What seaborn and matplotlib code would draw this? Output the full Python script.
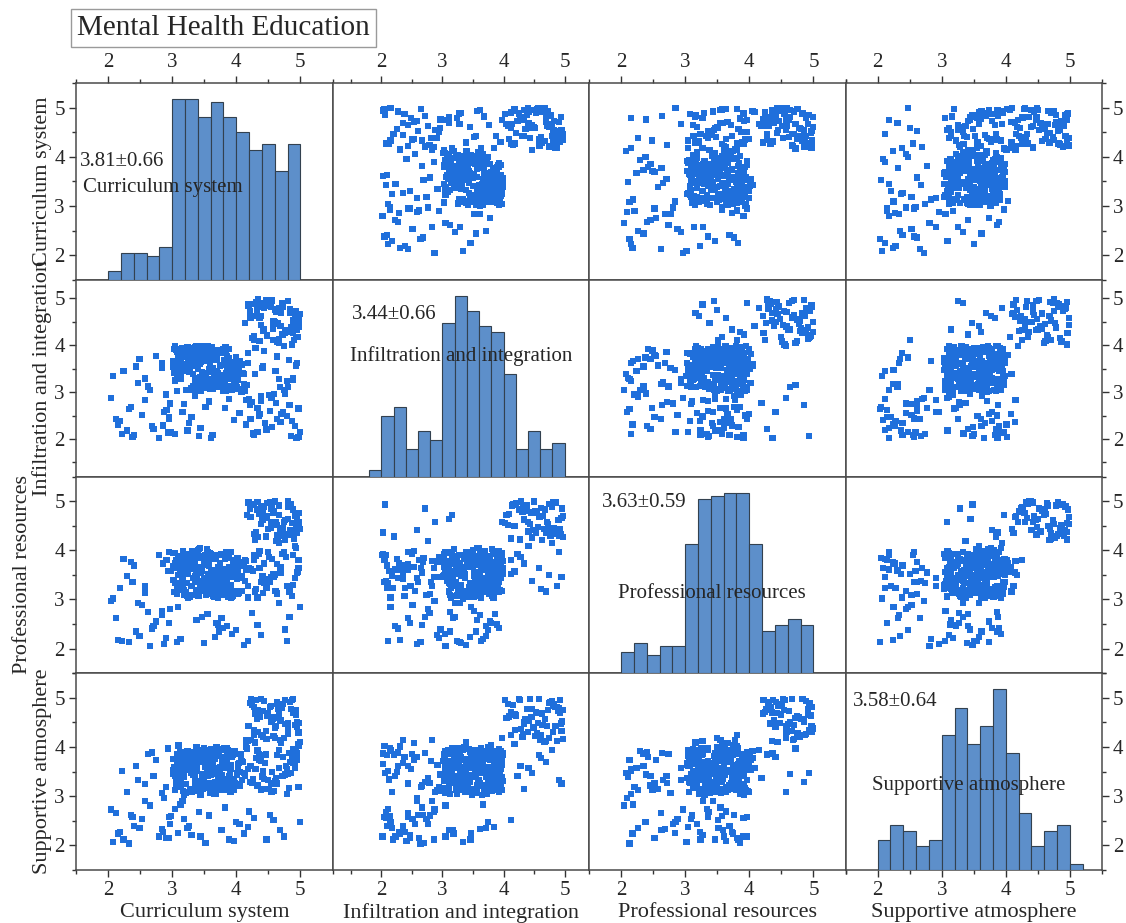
import numpy as np
import pandas as pd
import matplotlib
matplotlib.use("Agg")
import matplotlib.pyplot as plt
import seaborn as sns
from matplotlib.ticker import FixedLocator, MultipleLocator

# ---------------------------------------------------------------- data
names = ["Curriculum system", "Infiltration and integration",
         "Professional resources", "Supportive atmosphere"]
summary = ["3.81\u00b10.66", "3.44\u00b10.66", "3.63\u00b10.59", "3.58\u00b10.64"]
tick_values = [2, 3, 4, 5]

# histogram bins (start of first bin, bin width 0.2) and counts
hist_start = [2.0, 1.8, 2.0, 2.0]
hist_curriculum = [3, 9, 9, 8, 11, 60, 60, 54, 59, 54, 49, 43, 45, 36, 45]
hist_infiltration = [2, 20, 23, 9, 15, 12, 51, 60, 55, 50, 48, 34, 9, 15, 9, 11]
hist_professional = [7, 10, 6, 9, 9, 43, 58, 59, 60, 60, 43, 14, 16, 18, 16]
hist_supportive = [10, 15, 13, 8, 10, 45, 54, 42, 48, 60, 39, 19, 8, 13, 15, 2]

# respondent scores, split by response profile
core_c = [3.12, 3.47, 3.85, 3.06, 3.63, 3.91, 3.28, 3.74, 3.55, 4.02,
          3.38, 3.19, 3.96, 3.67, 3.03, 3.81, 3.44, 3.25, 4.07, 3.59,
          3.71, 3.14, 3.88, 3.33, 3.52, 3.98, 3.09, 3.66, 3.42, 3.77,
          3.21, 4.05, 3.49, 3.84, 3.17, 3.61, 3.36, 3.93, 3.02, 3.73,
          3.58, 3.27, 3.89, 3.11, 3.45, 4.09, 3.69, 3.31, 3.82, 3.54,
          3.15, 3.76, 3.39, 3.95, 3.07, 3.62, 3.48, 3.86, 3.23, 4.01,
          3.68, 3.35, 3.79, 3.13, 3.57, 3.92, 3.29, 3.71, 3.04, 3.46,
          3.87, 3.18, 3.64, 3.41, 3.99, 3.26, 3.53, 3.83, 3.10, 3.75,
          3.32, 3.97, 3.60, 3.08, 3.43, 3.78, 3.22, 4.04, 3.50, 3.65,
          3.94, 3.16, 3.72, 3.37, 3.85, 3.05, 3.56, 3.30, 3.90, 3.63,
          3.20, 3.80, 3.47, 4.08, 3.34, 3.70, 3.12, 3.58, 3.88, 3.40,
          3.75, 3.01, 3.66, 3.24, 3.96, 3.51, 3.14, 3.83, 3.44, 3.69,
          3.28, 3.92, 3.55, 3.09, 3.78, 3.36, 4.03, 3.61, 3.19, 3.86,
          3.53, 3.08, 3.77, 3.36, 3.94, 3.21, 3.62, 3.45, 3.87, 3.14,
          3.69, 3.31, 4.06, 3.57, 3.03, 3.82, 3.40, 3.73, 3.17, 3.98,
          3.26, 3.64, 3.49, 3.91, 3.11, 3.79, 3.35, 3.58, 4.03, 3.22,
          3.86, 3.44, 3.05, 3.71, 3.29, 3.96, 3.52, 3.15, 3.67, 3.38,
          3.90, 3.07, 3.61, 3.33, 3.84, 3.47, 3.19, 3.75, 3.56, 4.01,
          3.24, 3.68, 3.42, 3.93, 3.10, 3.80, 3.37, 3.59, 3.02, 3.72,
          3.48, 3.88, 3.16, 3.65, 3.30, 3.97, 3.54, 3.23, 3.81, 3.41,
          3.06, 3.74, 3.60, 3.28, 3.92, 3.46, 3.13, 3.85, 3.39, 3.66]
core_i = [3.74, 3.21, 3.58, 3.93, 3.08, 3.45, 3.82, 3.15, 3.67, 3.36,
          3.99, 3.52, 3.11, 3.79, 3.42, 3.26, 3.88, 3.63, 3.04, 3.57,
          3.33, 3.86, 3.47, 3.12, 3.95, 3.61, 3.38, 3.73, 3.19, 3.84,
          3.55, 3.07, 3.69, 3.41, 3.81, 3.24, 3.97, 3.49, 3.66, 3.13,
          3.89, 3.44, 3.28, 3.76, 3.02, 3.59, 3.35, 3.92, 3.17, 3.71,
          3.48, 3.83, 3.06, 3.64, 3.39, 3.96, 3.22, 3.78, 3.53, 3.10,
          3.68, 3.31, 3.91, 3.46, 3.85, 3.14, 3.62, 3.27, 3.98, 3.43,
          3.09, 3.75, 3.51, 3.87, 3.23, 3.65, 3.40, 3.03, 3.80, 3.56,
          3.94, 3.18, 3.72, 3.34, 3.60, 3.90, 3.05, 3.47, 3.77, 3.29,
          3.42, 3.86, 3.16, 3.70, 3.53, 3.25, 3.99, 3.64, 3.11, 3.82,
          3.57, 3.30, 3.88, 3.01, 3.67, 3.44, 3.79, 3.20, 3.93, 3.50,
          3.13, 3.61, 3.37, 3.84, 3.07, 3.74, 3.55, 3.96, 3.32, 3.68,
          3.89, 3.45, 3.10, 3.76, 3.58, 3.21, 3.63, 3.92, 3.48, 3.04,
          3.41, 3.87, 3.16, 3.62, 3.29, 3.95, 3.08, 3.73, 3.51, 3.34,
          3.80, 3.05, 3.67, 3.44, 3.92, 3.23, 3.58, 3.11, 3.85, 3.47,
          3.70, 3.19, 3.99, 3.36, 3.61, 3.03, 3.77, 3.50, 3.26, 3.89,
          3.13, 3.65, 3.42, 3.83, 3.09, 3.56, 3.31, 3.94, 3.21, 3.74,
          3.48, 3.02, 3.69, 3.38, 3.91, 3.15, 3.60, 3.84, 3.27, 3.53,
          3.97, 3.12, 3.79, 3.45, 3.66, 3.33, 3.88, 3.06, 3.55, 3.40,
          3.18, 3.72, 3.93, 3.30, 3.57, 3.10, 3.81, 3.46, 3.68, 3.24,
          3.90, 3.37, 3.14, 3.75, 3.52, 3.98, 3.28, 3.63, 3.04, 3.86]
core_p = [3.52, 3.88, 3.17, 3.64, 3.41, 3.97, 3.08, 3.73, 3.29, 3.85,
          3.63, 3.12, 3.79, 3.46, 3.94, 3.25, 3.57, 3.03, 3.69, 3.38,
          3.91, 3.34, 3.66, 3.09, 3.77, 3.48, 3.83, 3.21, 4.02, 3.55,
          3.14, 3.72, 3.43, 3.96, 3.27, 3.59, 3.81, 3.06, 3.67, 3.39,
          3.76, 3.05, 3.61, 3.32, 3.89, 3.18, 3.54, 3.99, 3.45, 3.70,
          3.23, 3.92, 3.50, 3.75, 3.11, 3.84, 3.36, 3.62, 3.07, 3.58,
          3.86, 3.47, 3.15, 3.71, 3.40, 3.03, 3.78, 3.53, 3.95, 3.26,
          3.60, 3.19, 3.87, 3.35, 3.68, 3.93, 3.10, 3.49, 3.74, 3.31,
          3.44, 3.80, 3.22, 3.65, 4.05, 3.37, 3.56, 3.13, 3.82, 3.90,
          3.08, 3.67, 3.42, 3.98, 3.28, 3.73, 3.51, 3.85, 3.16, 3.59,
          3.79, 3.24, 3.62, 3.47, 3.90, 3.12, 3.69, 3.33, 3.57, 4.01,
          3.39, 3.94, 3.06, 3.76, 3.54, 3.20, 3.88, 3.43, 3.66, 3.15,
          3.71, 3.30, 3.97, 3.50, 3.09, 3.83, 3.61, 3.36, 3.92, 3.45,
          3.75, 3.22, 3.90, 3.47, 3.11, 3.68, 3.37, 3.85, 3.05, 3.59,
          3.28, 3.96, 3.43, 3.71, 3.15, 3.82, 3.54, 3.33, 3.99, 3.18,
          3.64, 3.07, 3.79, 3.51, 3.26, 3.93, 3.40, 3.69, 3.12, 3.87,
          3.56, 3.30, 3.74, 3.03, 3.62, 3.45, 3.91, 3.20, 3.83, 3.49,
          3.09, 3.67, 3.35, 3.97, 3.24, 3.58, 3.81, 3.14, 3.72, 3.42,
          3.88, 3.31, 3.60, 3.06, 3.77, 3.53, 3.19, 3.94, 3.39, 3.66,
          3.27, 3.84, 3.48, 3.13, 3.70, 3.57, 4.03, 3.34, 3.61, 3.08,
          3.80, 3.44, 3.23, 3.89, 3.55, 3.17, 3.73, 3.36, 3.95, 3.50]
core_s = [3.36, 3.71, 3.94, 3.18, 3.55, 3.09, 3.82, 3.47, 3.63, 3.25,
          3.88, 3.42, 3.13, 3.76, 3.59, 3.97, 3.30, 3.68, 3.85, 3.07,
          3.52, 3.19, 3.79, 3.44, 3.91, 3.27, 3.65, 3.04, 3.73, 3.58,
          3.83, 3.49, 3.21, 3.67, 3.11, 3.95, 3.38, 3.80, 3.54, 3.29,
          3.16, 3.62, 3.87, 3.45, 3.74, 3.33, 3.99, 3.08, 3.57, 3.92,
          3.69, 3.24, 3.51, 3.84, 3.39, 3.72, 3.14, 3.96, 3.61, 3.43,
          3.05, 3.78, 3.35, 3.90, 3.26, 3.64, 3.48, 3.81, 3.12, 3.70,
          3.93, 3.40, 3.66, 3.17, 3.86, 3.53, 3.75, 3.31, 4.03, 3.22,
          3.60, 3.89, 3.15, 3.50, 3.77, 3.34, 3.06, 3.68, 3.98, 3.46,
          3.28, 3.73, 3.56, 3.10, 3.92, 3.41, 3.85, 3.63, 3.20, 3.79,
          3.87, 3.12, 3.44, 3.71, 3.58, 3.96, 3.23, 3.67, 3.37, 3.82,
          3.53, 3.76, 3.08, 3.91, 3.32, 3.60, 3.85, 3.19, 3.74, 3.48,
          3.14, 3.64, 3.89, 3.42, 3.70, 3.27, 3.56, 3.95, 3.03, 3.81,
          3.19, 3.66, 3.43, 3.88, 3.27, 3.74, 3.52, 3.06, 3.81, 3.35,
          3.97, 3.58, 3.22, 3.69, 3.45, 3.13, 3.86, 3.39, 3.62, 3.92,
          3.08, 3.77, 3.31, 3.55, 3.84, 3.17, 3.48, 3.94, 3.65, 3.25,
          3.71, 3.03, 3.60, 3.37, 3.89, 3.14, 3.79, 3.51, 3.28, 3.99,
          3.42, 3.85, 3.10, 3.68, 3.33, 3.93, 3.56, 3.21, 3.76, 3.47,
          3.64, 3.05, 3.82, 3.30, 3.57, 3.95, 3.24, 3.70, 3.46, 3.12,
          3.87, 3.40, 3.63, 3.18, 3.80, 3.34, 3.53, 3.09, 3.75, 3.91,
          3.29, 3.59, 3.44, 3.83, 3.15, 3.72, 3.38, 3.98, 3.61, 3.26]

high_c = [4.62, 4.85, 4.31, 4.97, 4.48, 4.73, 4.22, 4.90, 4.55, 4.38,
          4.81, 4.27, 4.66, 4.99, 4.43, 4.76, 4.34, 4.58, 4.93, 4.21,
          4.69, 4.46, 4.88, 4.29, 4.74, 4.52, 4.95, 4.36, 4.63, 4.80,
          4.41, 4.98, 4.25, 4.70, 4.57, 4.87, 4.33, 4.65, 4.92, 4.49,
          4.58, 4.84, 4.27, 4.71, 4.95, 4.39, 4.63, 4.19, 4.89, 4.47,
          4.76, 4.32, 4.98, 4.54, 4.67, 4.23, 4.81, 4.42, 4.93, 4.60]
high_i = [4.71, 4.38, 4.92, 4.55, 4.21, 4.83, 4.60, 4.12, 4.96, 4.44,
          4.29, 4.88, 4.05, 4.67, 4.79, 4.33, 4.98, 4.52, 4.18, 4.74,
          4.41, 4.95, 4.26, 4.63, 3.98, 4.85, 4.49, 4.09, 4.77, 4.32,
          4.90, 4.57, 4.15, 4.69, 4.36, 4.02, 4.81, 4.47, 4.64, 4.93,
          4.46, 4.77, 4.19, 4.91, 4.34, 4.62, 4.08, 4.85, 4.53, 4.97,
          4.27, 4.68, 4.40, 4.82, 4.14, 4.58, 4.94, 4.31, 4.73, 4.50]
high_p = [4.58, 4.91, 4.37, 4.75, 4.96, 4.46, 4.68, 4.24, 4.85, 4.53,
          4.99, 4.33, 4.72, 4.44, 4.89, 4.61, 4.27, 4.79, 4.50, 4.94,
          4.38, 4.66, 4.83, 4.21, 4.57, 4.97, 4.41, 4.74, 4.30, 4.88,
          4.62, 4.48, 4.93, 4.35, 4.80, 4.55, 4.98, 4.26, 4.70, 4.43,
          4.77, 4.42, 4.94, 4.29, 4.63, 4.86, 4.51, 4.97, 4.35, 4.70,
          4.22, 4.83, 4.58, 4.45, 4.91, 4.67, 4.32, 4.79, 4.54, 4.99]
high_s = [4.43, 4.78, 4.95, 4.29, 4.64, 4.87, 4.15, 4.71, 4.52, 4.98,
          4.36, 4.82, 4.59, 4.10, 4.93, 4.47, 4.75, 4.22, 4.66, 4.89,
          4.54, 4.33, 4.97, 4.68, 4.19, 4.81, 4.40, 4.62, 4.91, 4.26,
          4.73, 4.49, 4.85, 4.12, 4.57, 4.96, 4.31, 4.77, 4.44, 4.69,
          4.61, 4.92, 4.35, 4.79, 4.50, 4.24, 4.87, 4.43, 4.70, 4.16,
          4.95, 4.57, 4.30, 4.84, 4.66, 4.98, 4.48, 4.21, 4.75, 4.39]

mixed_c = [4.45, 4.12, 4.83, 4.61, 4.27, 4.95, 4.38, 4.70, 4.18, 4.56,
           4.89, 4.33, 4.74, 4.22, 4.64, 4.99, 4.41, 4.15, 4.79, 4.52,
           4.30, 4.87, 4.68, 4.24, 4.93, 4.47, 4.11, 4.76, 4.58, 4.35,
           4.82, 4.20, 4.66, 4.97, 4.43,
           4.26, 4.73, 4.51, 4.92, 4.17, 4.64, 4.38, 4.85, 4.29, 4.97,
           4.46, 4.13, 4.79, 4.55, 4.33, 4.88, 4.21, 4.69, 4.42, 4.94,
           4.59, 4.36, 4.81, 4.15, 4.62]
mixed_i = [2.35, 3.18, 2.72, 3.45, 2.08, 3.62, 2.91, 2.54, 3.84, 2.26,
           3.31, 2.67, 3.05, 2.43, 3.76, 2.15, 3.52, 2.83, 3.24, 2.60,
           3.95, 2.38, 3.11, 2.79, 3.57, 2.19, 3.40, 2.97, 4.12, 2.50,
           3.68, 2.86, 3.28, 2.05, 3.88,
           2.12, 2.58, 2.94, 2.27, 3.16, 2.43, 2.81, 2.06, 3.39, 2.65,
           2.21, 3.02, 2.49, 2.88, 2.15, 3.27, 2.72, 2.36, 3.55, 2.03,
           2.96, 2.54, 3.11, 2.31, 2.77]
mixed_p = [3.42, 3.75, 2.64, 3.18, 3.91, 3.55, 2.27, 3.66, 3.04, 3.83,
           3.29, 2.48, 3.97, 3.61, 3.12, 2.85, 3.48, 3.78, 2.16, 3.36,
           3.88, 3.07, 3.59, 2.72, 4.05, 3.24, 3.70, 2.39, 3.51, 3.93,
           3.15, 3.64, 2.93, 3.81, 3.33,
           3.58, 4.41, 3.87, 3.43, 4.72, 3.72, 3.35, 4.93, 3.16, 3.64,
           4.28, 3.81, 3.27, 4.57, 3.04, 3.91, 4.85, 3.55, 3.13, 4.36,
           3.46, 3.99, 4.64, 3.61, 4.19]
mixed_s = [3.67, 2.24, 3.88, 3.31, 2.55, 3.74, 3.12, 4.08, 2.38, 3.49,
           3.95, 3.22, 2.18, 3.61, 3.83, 2.47, 3.40, 4.15, 3.05, 2.62,
           3.56, 3.79, 2.31, 3.27, 3.92, 2.12, 3.70, 3.44, 2.51, 3.86,
           3.16, 2.69, 3.58, 4.02, 3.35,
           3.34, 3.79, 3.15, 3.62, 3.97, 3.26, 3.71, 3.48, 4.09, 3.19,
           3.85, 3.41, 3.56, 3.08, 3.93, 3.67, 3.29, 4.14, 3.52, 3.87,
           3.11, 3.74, 3.45, 4.01, 3.37]

low_c = [2.15, 2.62, 2.38, 2.87, 2.24, 2.71, 2.05, 2.49, 2.93, 2.33,
         2.58, 2.12, 2.80, 2.44, 2.97, 2.29, 2.66, 2.19, 2.75, 2.53,
         2.41, 2.90, 2.08, 2.68, 2.36, 2.84, 2.22, 2.57, 2.95, 2.47]
low_i = [2.31, 3.12, 2.05, 2.58, 3.46, 2.22, 2.87, 3.71, 2.14, 2.64,
         3.29, 2.43, 2.02, 3.55, 2.76, 2.18, 3.05, 2.39, 3.78, 2.51,
         2.09, 2.95, 3.34, 2.27, 2.68, 3.62, 2.11, 2.83, 2.47, 3.20]
low_p = [2.18, 2.74, 3.35, 2.09, 3.82, 2.46, 2.97, 2.26, 3.58, 2.13,
         3.14, 2.62, 3.91, 2.35, 2.81, 3.47, 2.05, 3.23, 2.55, 2.88,
         3.69, 2.21, 3.02, 2.41, 3.76, 2.69, 2.16, 3.28, 2.52, 2.93]
low_s = [2.24, 3.86, 2.57, 2.96, 2.12, 3.41, 2.73, 2.35, 3.97, 2.04,
         3.25, 2.66, 2.18, 3.62, 2.44, 3.09, 2.81, 2.28, 3.74, 2.53,
         2.39, 3.18, 2.07, 3.89, 2.62, 2.33, 3.51, 2.91, 2.15, 3.33]

mid_c = [3.24, 3.67, 2.91, 3.85, 3.42, 3.08, 3.96, 3.55, 3.19, 3.73,
         2.86, 3.38, 4.05, 3.61, 3.13, 3.89, 3.47, 2.98, 3.79, 3.30,
         4.12, 3.52, 3.04, 3.69, 3.26, 3.93, 3.58, 2.84, 3.44, 4.18,
         3.16, 3.77, 3.35, 3.99, 3.63, 3.09, 3.82, 3.49, 2.95, 3.71]
mid_i = [2.18, 3.45, 2.62, 3.71, 2.07, 3.28, 2.41, 3.86, 2.74, 3.12,
         2.29, 3.57, 2.55, 2.03, 3.66, 2.86, 3.21, 2.14, 3.93, 2.47,
         3.38, 2.69, 2.11, 3.79, 2.35, 3.04, 2.80, 3.52, 2.23, 3.63,
         2.58, 3.17, 2.92, 3.74, 2.09, 3.47, 2.66, 3.31, 2.44, 3.89]
mid_p = [3.52, 2.24, 3.81, 2.46, 3.37, 2.13, 3.64, 2.71, 3.09, 2.35,
         3.73, 2.58, 3.18, 3.92, 2.19, 3.46, 2.65, 3.58, 2.42, 3.27,
         2.08, 3.85, 3.34, 2.52, 3.69, 2.29, 3.11, 2.77, 3.61, 2.16,
         3.43, 2.63, 3.77, 2.38, 3.24, 2.84, 3.55, 2.11, 3.96, 2.49]
mid_s = [2.36, 3.58, 2.15, 3.22, 2.68, 3.74, 2.09, 3.41, 2.53, 3.87,
         2.27, 3.15, 2.44, 3.66, 2.83, 2.12, 3.33, 2.59, 3.79, 2.21,
         3.48, 2.05, 2.74, 3.27, 2.39, 3.92, 2.61, 3.06, 2.18, 3.55,
         2.91, 2.32, 3.63, 2.48, 3.83, 2.25, 2.77, 3.39, 2.57, 3.13]

upper_c = [4.36, 4.72, 4.18, 4.91, 4.55, 4.27, 4.84, 4.43, 4.67, 4.13,
           4.96, 4.50, 4.31, 4.78, 4.60]
upper_i = [4.58, 4.23, 4.87, 4.41, 4.95, 4.12, 4.69, 4.34, 4.80, 4.47,
           4.18, 4.91, 4.62, 4.28, 4.75]
upper_p = [3.64, 3.92, 3.27, 4.08, 3.45, 3.81, 3.16, 3.73, 4.15, 3.38,
           3.57, 3.96, 3.22, 3.86, 3.50]
upper_s = [3.83, 3.41, 4.12, 3.58, 3.26, 4.25, 3.69, 3.15, 3.94, 3.47,
           4.06, 3.33, 3.77, 3.61, 4.18]

scores = pd.DataFrame({
    names[0]: core_c + high_c + mixed_c + low_c + mid_c + upper_c,
    names[1]: core_i + high_i + mixed_i + low_i + mid_i + upper_i,
    names[2]: core_p + high_p + mixed_p + low_p + mid_p + upper_p,
    names[3]: core_s + high_s + mixed_s + low_s + mid_s + upper_s,
})
hist_counts = [hist_curriculum, hist_infiltration, hist_professional, hist_supportive]

# ---------------------------------------------------------------- style
sns.set_style("ticks")
plt.rcParams["font.family"] = ["Liberation Serif", "DejaVu Serif"]

POINT = "#1f6fdb"
BAR = "#5d8fca"
BAR_EDGE = "#33414f"
FRAME = "#4a4a4a"
BIN_WIDTH = 0.2

axis_limits = [(1.5, 5.5), (1.2, 5.4), (1.5, 5.5), (1.5, 5.5)]
stat_pos = [(0.016, 0.60), (0.074, 0.823), (0.052, 0.866), (0.029, 0.854)]
name_pos = [(0.027, 0.47, "left"), (0.50, 0.61, "center"),
            (0.479, 0.406, "center"), (0.48, 0.428, "center")]
ylabel_x = [-0.094, -0.094, -0.172, -0.094]

fig, axes = plt.subplots(4, 4, figsize=(11.26, 9.23), dpi=100)
fig.subplots_adjust(left=76 / 1126, right=1102 / 1126,
                    top=1 - 83 / 923, bottom=1 - 870 / 923,
                    wspace=0, hspace=0)

n = len(names)
for i in range(n):
    for j in range(n):
        ax = axes[i, j]
        tw = ax.twinx() if i == j else None
        if i != j:
            sns.scatterplot(x=scores[names[j]], y=scores[names[i]], ax=ax,
                            marker="s", s=20, color=POINT, linewidth=0,
                            edgecolor="none", legend=False)
        ax.set_xlim(*axis_limits[j])
        ax.set_ylim(*axis_limits[i])
        ax.xaxis.set_major_locator(FixedLocator(tick_values))
        ax.yaxis.set_major_locator(FixedLocator(tick_values))
        ax.xaxis.set_minor_locator(MultipleLocator(0.5))
        ax.yaxis.set_minor_locator(MultipleLocator(0.5))
        ax.tick_params(which="both", direction="out", color="#333333",
                       top=(i == 0), labeltop=(i == 0),
                       bottom=(i == n - 1), labelbottom=(i == n - 1),
                       left=(j == 0), labelleft=(j == 0),
                       right=(j == n - 1), labelright=(j == n - 1),
                       labelsize=15, pad=3)
        ax.tick_params(which="major", length=5, width=1)
        ax.tick_params(which="minor", length=3, width=1)
        for sp in ax.spines.values():
            sp.set_visible(True)
            sp.set_color(FRAME)
            sp.set_linewidth(1.1)
        ax.set_xlabel(names[j] if i == n - 1 else "", fontsize=16, labelpad=2)
        ax.set_ylabel(names[i] if j == 0 else "", fontsize=16)
        if j == 0:
            ax.yaxis.set_label_coords(ylabel_x[i], 0.5)

        if tw is not None:
            counts = hist_counts[i]
            start = hist_start[i]
            bins = pd.DataFrame({
                "score": start + BIN_WIDTH * (np.arange(len(counts)) + 0.5),
                "count": counts,
            })
            sns.histplot(data=bins, x="score", weights="count",
                         binwidth=BIN_WIDTH,
                         binrange=(start, start + BIN_WIDTH * len(counts)),
                         ax=tw, color=BAR, edgecolor=BAR_EDGE, linewidth=0.8,
                         alpha=1)
            tw.set_ylim(0, max(counts) * 1.09)
            tw.set_xlim(*axis_limits[j])
            tw.set_axis_off()
            tw.text(stat_pos[i][0], stat_pos[i][1], summary[i],
                    transform=tw.transAxes, ha="left", va="center",
                    fontsize=15, zorder=5)
            tw.text(name_pos[i][0], name_pos[i][1], names[i],
                    transform=tw.transAxes, ha=name_pos[i][2], va="center",
                    fontsize=15, zorder=5)

fig.text(77 / 1126, 1 - 28 / 923, "Mental Health Education", fontsize=21,
         ha="left", va="center",
         bbox=dict(boxstyle="square,pad=0.2", facecolor="white",
                   edgecolor="#9a9a9a", linewidth=1))

fig.savefig("out.png", dpi=100)
